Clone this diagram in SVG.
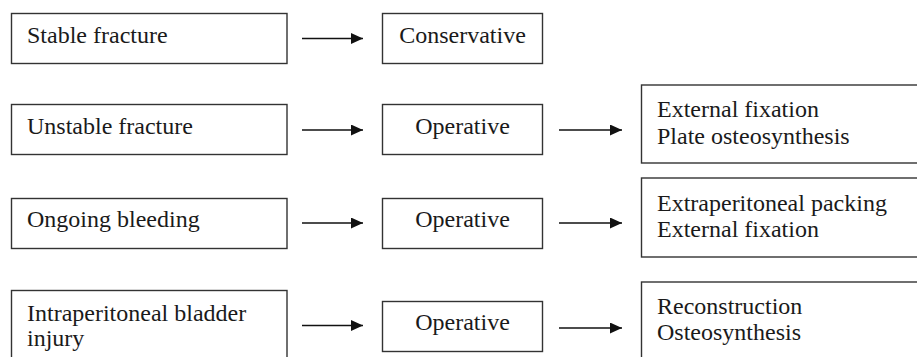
<svg xmlns="http://www.w3.org/2000/svg" width="917" height="357" viewBox="0 0 917 357">
<style>
.box{fill:#fff;stroke:#333;stroke-width:1.4}
.t{font-family:'Liberation Serif','Times New Roman',serif;font-size:24px;fill:#1a1a1a}
.c{text-anchor:middle}
.arr{stroke:#111;stroke-width:1.6;fill:none;marker-end:url(#ah)}
</style>
<defs>
<marker id="ah" markerUnits="userSpaceOnUse" markerWidth="12" markerHeight="11" refX="12" refY="5.5" orient="auto">
<path d="M0,0 L12,5.5 L0,11 Z" fill="#111"/>
</marker>
</defs>
<rect width="917" height="357" fill="#fff"/>
<g id="n-stable"><rect class="box" x="11.5" y="13.5" width="275.5" height="50"/><text class="t" x="27" y="42.5">Stable fracture</text></g>
<g id="n-unstable"><rect class="box" x="11.5" y="104.5" width="275.5" height="50"/><text class="t" x="27" y="133.5">Unstable fracture</text></g>
<g id="n-bleeding"><rect class="box" x="11.5" y="198.5" width="275.5" height="50"/><text class="t" x="27" y="226.5">Ongoing bleeding</text></g>
<g id="n-bladder"><rect class="box" x="11.5" y="290.5" width="275.5" height="75"/><text class="t" x="27" y="321">Intraperitoneal bladder</text><text class="t" x="27" y="345.5">injury</text></g>
<g id="n-conservative"><rect class="box" x="382.5" y="13.5" width="160" height="50"/><text class="t c" x="462.5" y="42.5">Conservative</text></g>
<g id="n-op1"><rect class="box" x="382.5" y="104.5" width="160" height="50"/><text class="t c" x="462.5" y="133.5">Operative</text></g>
<g id="n-op2"><rect class="box" x="382.5" y="198.5" width="160" height="50"/><text class="t c" x="462.5" y="226.5">Operative</text></g>
<g id="n-op3"><rect class="box" x="382.5" y="301.5" width="160" height="50"/><text class="t c" x="462.5" y="330">Operative</text></g>
<g id="n-r1"><rect class="box" x="641.5" y="85" width="290" height="78"/><text class="t" x="657" y="116.5">External fixation</text><text class="t" x="657" y="143.5">Plate osteosynthesis</text></g>
<g id="n-r2"><rect class="box" x="641.5" y="178" width="290" height="79"/><text class="t" x="657" y="211">Extraperitoneal packing</text><text class="t" x="657" y="237">External fixation</text></g>
<g id="n-r3"><rect class="box" x="641.5" y="282" width="290" height="90"/><text class="t" x="657" y="314">Reconstruction</text><text class="t" x="657" y="340">Osteosynthesis</text></g>
<g id="connectors">
<line class="arr" x1="302" y1="38.5" x2="363" y2="38.5"/>
<line class="arr" x1="302" y1="130" x2="363" y2="130"/>
<line class="arr" x1="302" y1="223" x2="363" y2="223"/>
<line class="arr" x1="302" y1="325.5" x2="363" y2="325.5"/>
<line class="arr" x1="559" y1="130" x2="622" y2="130"/>
<line class="arr" x1="559" y1="223" x2="622" y2="223"/>
<line class="arr" x1="559" y1="328" x2="622" y2="328"/>
</g>
</svg>
